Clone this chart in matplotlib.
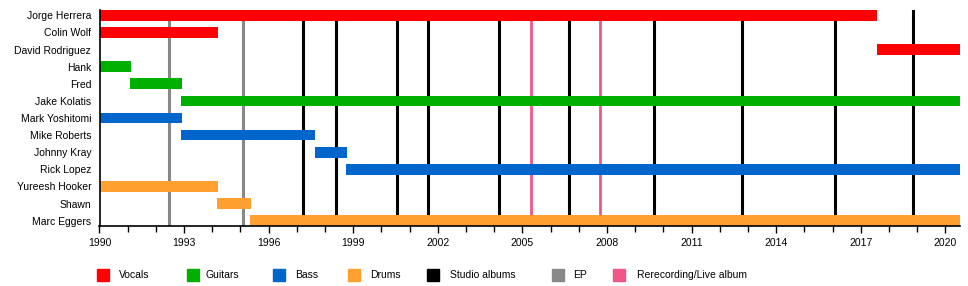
import matplotlib
matplotlib.use("Agg")
import matplotlib.pyplot as plt
from matplotlib.patches import Rectangle
from matplotlib.ticker import MultipleLocator

plt.rcParams['font.family'] = ['Liberation Sans', 'DejaVu Sans']

members = ["Jorge Herrera", "Colin Wolf", "David Rodriguez", "Hank", "Fred",
           "Jake Kolatis", "Mark Yoshitomi", "Mike Roberts", "Johnny Kray",
           "Rick Lopez", "Yureesh Hooker", "Shawn", "Marc Eggers"]
end_year = 2020.52
starts = [1990.0, 1990.0, 2017.58, 1990.0, 1991.08,
          1992.9, 1990.0, 1992.9, 1997.63,
          1998.75, 1990.0, 1994.18, 1995.35]
ends = [2017.58, 1994.19, end_year, 1991.1, 1992.93,
        end_year, 1992.93, 1997.64, 1998.77,
        end_year, 1994.19, 1995.36, end_year]
roles = ["Vocals", "Vocals", "Vocals", "Guitars", "Guitars",
         "Guitars", "Bass", "Bass", "Bass",
         "Bass", "Drums", "Drums", "Drums"]

studio_albums = [1997.23, 1998.38, 2000.54, 2001.66, 2004.16, 2006.66,
                 2009.67, 2012.79, 2016.09, 2018.86]
eps = [1992.48, 1995.1]
rerecordings = [2005.31, 2007.76]

role_colors = {"Vocals": "#FF0000", "Guitars": "#00B000", "Bass": "#0066CC",
               "Drums": "#FFA030"}
event_colors = {"Studio albums": "#000000", "EP": "#888888",
                "Rerecording/Live album": "#F25588"}
legend_labels = ["Vocals", "Guitars", "Bass", "Drums", "Studio albums", "EP",
                 "Rerecording/Live album"]

W, H = 968, 286
fig = plt.figure(figsize=(W / 100, H / 100), dpi=100)
ax = fig.add_axes([99.5 / W, 1 - 226 / H, (960 - 99.5) / W, 216 / H])

for x in studio_albums:
    ax.axvline(x, color=event_colors["Studio albums"], lw=2.2, zorder=1)
for x in eps:
    ax.axvline(x, color=event_colors["EP"], lw=2.2, zorder=1)
for x in rerecordings:
    ax.axvline(x, color=event_colors["Rerecording/Live album"], lw=2.0, zorder=1)

ys = list(range(len(members)))
ax.barh(ys, [e - s for s, e in zip(starts, ends)], left=starts, height=0.62,
        color=[role_colors[r] for r in roles], zorder=2, linewidth=0)

ax.set_xlim(1990, end_year)
ax.set_ylim(len(members) - 1 + 0.31, -0.31)
ax.set_yticks(ys)
ax.set_yticklabels(members, fontsize=7.5)
ax.tick_params(axis='y', length=0, pad=6)
ax.set_xticks(range(1990, 2021, 3))
ax.xaxis.set_minor_locator(MultipleLocator(1))
ax.tick_params(axis='x', which='major', length=5, width=1, labelsize=7.5, pad=4)
ax.tick_params(axis='x', which='minor', length=4, width=1)
for s in ["top", "right"]:
    ax.spines[s].set_visible(False)
ax.spines["left"].set_linewidth(1.2)
ax.spines["bottom"].set_linewidth(1.2)

all_colors = {**role_colors, **event_colors}
sq_x = [97, 187, 273, 348, 427, 552, 613]
txt_x = [119, 205, 295, 370, 450, 573, 637]
for label, sx, tx in zip(legend_labels, sq_x, txt_x):
    fig.patches.append(Rectangle((sx / W, 1 - 280.5 / H), 12 / W, 12 / H,
                                 transform=fig.transFigure,
                                 color=all_colors[label], figure=fig))
    fig.text(tx / W, 1 - 274.5 / H, label, fontsize=7.5, va='center', ha='left')

fig.savefig("out.png", dpi=100)
